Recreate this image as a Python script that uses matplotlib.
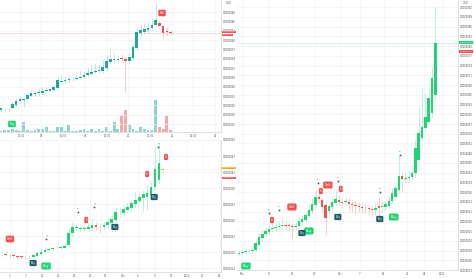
import matplotlib
matplotlib.use("Agg")
import matplotlib.pyplot as plt
import numpy as np

# ---------------- data ----------------
# Top-left panel (teal/red candles + volume)
tl_open = [90, 92, 92, 95, 105, 117, 120, 122, 132, 138, 140, 142, 148, 148, 150, 155, 175, 177, 180, 182,
           184, 186, 190, 195, 198, 204, 208, 207, 215, 235, 240, 240, 245, 242, 238, 245, 275, 320, 325, 330,
           335, 345, 352, 342, 327, 325]
tl_close = [95, 92.5, 93, 108, 118, 122, 122, 135, 140, 140, 145, 148, 150, 152, 158, 180, 178, 180, 182, 184,
            186, 190, 194, 200, 204, 208, 210, 220, 238, 242, 242, 242, 242, 238, 250, 280, 325, 330, 332, 337,
            345, 360, 342, 320, 325, 322]
tl_high = [100, 96, 97, 115, 125, 130, 128, 140, 150, 147, 152, 158, 158, 158, 165, 190, 195, 188, 196, 192,
           196, 210, 205, 215, 225, 232, 225, 240, 255, 270, 262, 255, 258, 250, 262, 290, 335, 345, 350, 355,
           365, 410, 360, 345, 340, 330]
tl_low = [85, 88, 88, 92, 100, 112, 100, 118, 128, 132, 132, 138, 142, 143, 146, 150, 168, 172, 175, 178,
          180, 182, 186, 190, 195, 200, 200, 202, 210, 230, 232, 233, 236, 145, 228, 240, 270, 310, 318, 322,
          330, 340, 335, 305, 312, 315]
tl_volume = [3, 5, 5, 8, 6, 4, 30, 6, 4, 6, 8, 10, 15, 4, 3, 15, 14, 3, 22, 4,
             3, 6, 10, 4, 10, 3, 8, 3, 15, 4, 30, 8, 52, 65, 22, 10, 4, 14, 8, 5,
             6, 95, 14, 8, 47, 5]
tl_dates = ["12:00", "18", "12:00", "19", "12:00", "20", "12:00", "21", "12:00", "22"]
tl_date_pos = [5.3, 10.6, 16.4, 22.3, 28.1, 33.7, 39.5, 45.4, 51.0, 56.8]

# Bottom-left panel (green/red candles)
bl_open = [77, 77, 76, 74, 72, 70, 69, 68, 70, 73, 78, 84, 90, 94, 95, 96, 97, 105, 140, 155,
           153, 152, 154, 155, 164, 160, 160, 165, 172, 180, 200, 200, 210, 215, 228, 238, 245, 250, 255, 278,
           300, 332]
bl_close = [77.5, 76, 74, 72, 70, 69, 68, 70, 74, 80, 85, 90, 94, 95, 96, 97, 102, 142, 158, 158,
            155, 155, 158, 165, 160, 158, 165, 175, 182, 205, 202, 212, 218, 230, 240, 248, 258, 260, 280, 332,
            352, 330]
bl_high = [82, 80, 79, 78, 76, 74, 73, 74, 78, 86, 92, 100, 98, 100, 100, 101, 110, 155, 175, 170,
           165, 162, 170, 185, 175, 168, 175, 185, 195, 215, 215, 222, 230, 240, 265, 262, 270, 285, 295, 400,
           410, 340]
bl_low = [72, 72, 70, 65, 64, 64, 62, 64, 66, 70, 74, 80, 87, 90, 92, 93, 94, 100, 130, 148,
          145, 146, 148, 148, 150, 140, 150, 158, 165, 170, 190, 195, 200, 205, 215, 230, 205, 210, 240, 270,
          290, 322]
bl_dates = ["3", "7", "11", "15", "19", "23", "27", "Dec", "5", "9", "13", "2021", "21", "25"]
bl_date_pos = [2.1, 6.2, 10.3, 14.3, 18.4, 22.5, 26.5, 30.9, 34.7, 38.8, 43.1, 47.2, 51.2, 55.5]

# Right panel (green/red candles)
r_open = [78, 82, 85, 86, 87, 90, 105, 125, 137, 145, 152, 155, 158, 162, 165, 164, 161, 158, 162, 175,
          180, 192, 208, 225, 248, 240, 225, 208, 220, 230, 240, 235, 234, 235, 227, 224, 222, 220, 217, 215,
          212, 210, 222, 220, 220, 222, 238, 250, 270, 312, 302, 307, 308, 320, 360, 425, 455, 475, 500, 555]
r_close = [82, 85, 87, 87, 90, 110, 128, 138, 148, 152, 156, 160, 162, 165, 163, 161, 158, 162, 177, 182,
           195, 210, 228, 248, 242, 220, 187, 222, 235, 244, 234, 230, 237, 227, 224, 222, 220, 217, 215, 212,
           209, 215, 215, 220.5, 228, 238, 260, 275, 312, 302, 307, 310, 322, 395, 440, 460, 490, 545, 605, 710]
r_high = [88, 90, 92, 92, 95, 120, 140, 152, 160, 165, 170, 175, 178, 190, 178, 175, 168, 175, 190, 195,
          210, 225, 245, 270, 262, 250, 232, 235, 250, 270, 255, 250, 250, 245, 240, 238, 235, 232, 230, 228,
          225, 230, 250, 235, 240, 250, 275, 295, 375, 320, 325, 330, 345, 420, 520, 575, 560, 580, 640, 818]
r_low = [72, 76, 80, 80, 82, 86, 100, 118, 130, 138, 145, 148, 150, 152, 150, 148, 125, 150, 155, 168,
         172, 185, 200, 215, 232, 205, 135, 195, 210, 222, 225, 215, 222, 210, 205, 200, 205, 200, 198, 195,
         190, 195, 180, 205, 210, 215, 230, 240, 262, 265, 290, 295, 300, 310, 355, 420, 445, 470, 490, 540]
r_dates = ["Nov", "8", "15", "22", "Dec", "7", "14", "21", "28", "2021"]
r_date_pos = [0.9, 9.0, 15.9, 22.8, 30.3, 36.3, 43.5, 50.5, 55.6, 61.0]

# ---------------- style ----------------
TEAL = "#26a69a"
RED = "#ef5350"
GREEN = "#22d373"
DARKTEAL = "#1f5f6b"
ORANGE = "#f5a623"
GRID = "#eef1f7"
AXISLINE = "#d1d4dc"
TXT = "#50535e"

W, H = 474, 279
fig = plt.figure(figsize=(W / 100, H / 100), dpi=100)
fig.patch.set_facecolor("white")


def px_axes(x0, y0, x1, y1, **kw):
    return fig.add_axes([x0 / W, 1 - y1 / H, (x1 - x0) / W, (y1 - y0) / H], **kw)


def draw_candles(ax, o, c, h, l, up, down, width, colors=None):
    o = np.asarray(o, float); c = np.asarray(c, float)
    h = np.asarray(h, float); l = np.asarray(l, float)
    x = np.arange(len(o))
    col = np.where(c >= o, up, down).astype(object)
    if colors:
        for i, cc in colors.items():
            col[i] = cc
    ax.vlines(x, l, h, colors=list(col), linewidth=0.4, alpha=0.5, zorder=2)
    bottom = np.minimum(o, c)
    height = np.maximum(np.abs(c - o), 1.8)
    ax.bar(x, height, width, bottom=bottom, color=list(col), linewidth=0, zorder=3)


def style(ax, xlim, ylim, yticks, xticks, xlabels):
    ax.set_xlim(*xlim)
    ax.set_ylim(*ylim)
    ax.yaxis.tick_right()
    ax.set_yticks(yticks)
    ax.set_yticklabels([f"{t * 1e-8 + 1e-6:.7f}" for t in yticks])
    ax.set_xticks(xticks)
    ax.set_xticklabels(xlabels)
    ax.tick_params(axis="both", labelsize=1.8, labelcolor=TXT, color=AXISLINE,
                   length=1.0, width=0.3, pad=0.6)
    ax.grid(True, color=GRID, linewidth=0.5)
    ax.set_axisbelow(True)
    for s in ["top", "left"]:
        ax.spines[s].set_visible(False)
    for s in ["right", "bottom"]:
        ax.spines[s].set_color(AXISLINE)
        ax.spines[s].set_linewidth(0.5)


def tag(ax, x, y, color, text, fs=2.0, pad=0.45):
    ax.text(x, y, text, fontsize=fs, color="white", ha="center", va="center",
            bbox=dict(boxstyle=f"round,pad={pad}", fc=color, ec="none"), zorder=6)


def dot(ax, x, y):
    ax.plot([x], [y], "o", ms=1.3, color=DARKTEAL, mec="none", zorder=6)
    ax.text(x, y + 10, "B", fontsize=1.6, color=TXT, ha="center", va="bottom", zorder=6)


def price_label(ax, y, text, color, fs=1.7):
    ax.text(1.008, y, text, transform=ax.get_yaxis_transform(), fontsize=fs, color="white",
            ha="left", va="center", clip_on=False, zorder=7,
            bbox=dict(boxstyle="square,pad=0.3", fc=color, ec="none"))


# ---------------- top-left ----------------
axv = px_axes(0, 0, 221, 132)
axv.set_xlim(-0.27, 58.35)
axv.set_ylim(0, 396)
vcol = [TEAL if c >= o else RED for o, c in zip(tl_open, tl_close)]
axv.bar(np.arange(len(tl_volume)), tl_volume, 0.75, color=vcol, alpha=0.5, linewidth=0)
axv.axis("off")

ax1 = px_axes(0, 0, 221, 132)
ax1.patch.set_visible(False)
style(ax1, (-0.27, 58.35), (24, 420), [48 + 28 * k for k in range(13)], tl_date_pos, tl_dates)
draw_candles(ax1, tl_open, tl_close, tl_high, tl_low, TEAL, RED, 0.7)
ax1.axhline(322, color=RED, linewidth=0.4, alpha=0.35, zorder=1)
tag(ax1, 2.9, 48, GREEN, "Buy", fs=2.0)
tag(ax1, 42.7, 381, RED, "Sell", fs=2.0)
price_label(ax1, 324, "0.0000042", RED)
price_label(ax1, 316, "12:04:11", RED, fs=1.5)
fig.text(229 / W, 1 - 3 / H, "USD", fontsize=1.9, color=TXT, ha="center", va="center")

# ---------------- bottom-left ----------------
ax2 = px_axes(0, 140, 221, 272)
style(ax2, (-0.43, 55.8), (24, 420), [36 + 48 * k for k in range(9)], bl_date_pos, bl_dates)
draw_candles(ax2, bl_open, bl_close, bl_high, bl_low, GREEN, RED, 0.7, colors={41: ORANGE})
ax2.axhline(333, xmin=0.72, color=ORANGE, linewidth=0.4, alpha=0.5, linestyle=":", zorder=1)
tag(ax2, 2.1, 123, RED, "Sell", fs=2.2)
tag(ax2, 8.0, 51, DARKTEAL, "Buy", fs=1.8)
tag(ax2, 11.3, 42, GREEN, "Buy", fs=2.4)
tag(ax2, 21.5, 180, RED, "S", fs=1.8)
tag(ax2, 37.0, 318, RED, "S", fs=1.8)
tag(ax2, 41.8, 369, RED, "S", fs=1.8)
tag(ax2, 28.8, 159, DARKTEAL, "Buy", fs=1.8)
tag(ax2, 38.8, 249, DARKTEAL, "Buy", fs=1.8)
for x, y in [(11.3, 123), (19.4, 204), (23.5, 219), (39.8, 399)]:
    dot(ax2, x, y)
price_label(ax2, 336, "0.0000043", ORANGE)
price_label(ax2, 306, "0.0000041", RED)

# ---------------- right ----------------
ax3 = px_axes(237, 0, 458, 270)
style(ax3, (-0.6, 65.8), (30, 840), [30 + 29.2 * k for k in range(28)], r_date_pos, r_dates)
draw_candles(ax3, r_open, r_close, r_high, r_low, GREEN, RED, 0.74)
ax3.axhline(710, color=GREEN, linewidth=0.4, alpha=0.35, zorder=1)
tag(ax3, 2.1, 42, GREEN, "Buy", fs=2.4)
tag(ax3, 21.0, 147, GREEN, "Buy", fs=2.4)
tag(ax3, 46.5, 189, GREEN, "Buy", fs=2.4)
tag(ax3, 15.9, 219, RED, "Sell", fs=2.4)
tag(ax3, 9.9, 180, RED, "S", fs=1.8)
tag(ax3, 24.6, 267, RED, "S", fs=1.8)
tag(ax3, 26.7, 285, RED, "Sell", fs=2.4)
tag(ax3, 30.6, 273, RED, "S", fs=1.8)
tag(ax3, 18.9, 141, DARKTEAL, "Buy", fs=1.8)
tag(ax3, 29.7, 189, DARKTEAL, "Buy", fs=1.8)
tag(ax3, 42.3, 183, DARKTEAL, "Buy", fs=1.8)
for x, y in [(9.0, 201), (12.0, 210), (23.7, 291), (29.7, 297), (42.3, 264), (48.3, 375)]:
    dot(ax3, x, y)
price_label(ax3, 712, "0.0000081", GREEN)
price_label(ax3, 686, "0.0000079", RED)
fig.text(466 / W, 1 - 3 / H, "USD", fontsize=1.9, color=TXT, ha="center", va="center")

fig.savefig("out.png", dpi=100, facecolor="white")
